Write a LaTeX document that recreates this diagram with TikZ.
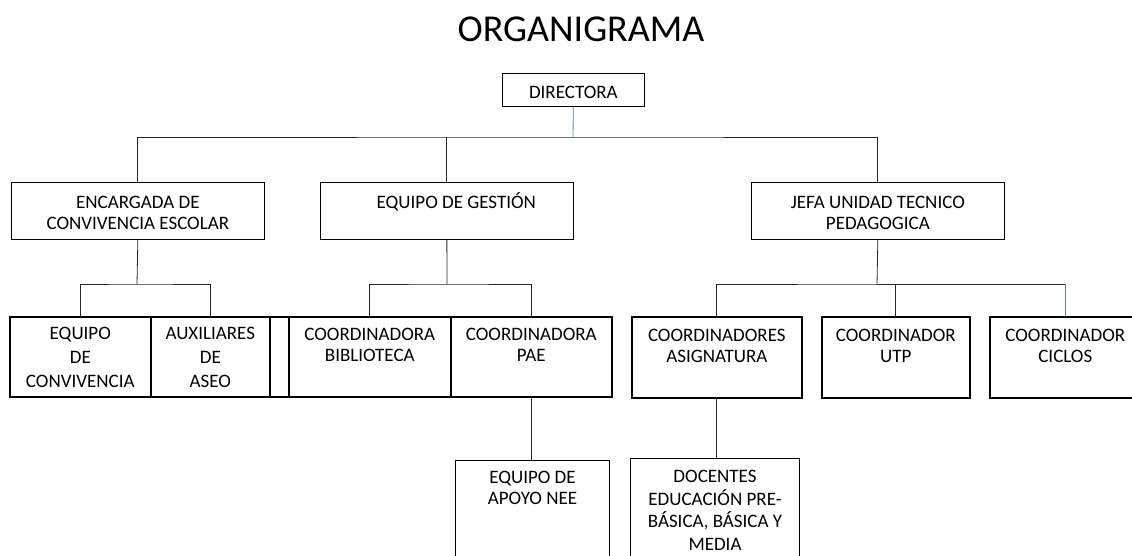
\documentclass[tikz,border=0pt]{standalone}
\usepackage{fontspec}
\setmainfont{Carlito}
\usepackage{tikz}
\definecolor{linkblue}{RGB}{79,129,189}

\begin{document}
\begin{tikzpicture}[x=1pt,y=-1pt,
  unit/.style={draw, line width=0.7pt, inner sep=0pt, anchor=north west, align=flush center, font=\fontsize{19}{20.7}\selectfont},
  post/.style={unit, line width=1.6pt},
  tall/.style={font=\fontsize{19}{23.8}\selectfont},
  link/.style={draw, line width=0.8pt, black!85},
  blink/.style={draw, line width=0.8pt, linkblue}]
\clip (0,0) rectangle (1132,556);
\node[font=\fontsize{38}{44}\selectfont, anchor=base] (title) at (581,42) {ORGANIGRAMA};
% top
\node[unit, text width=142pt, text height=25pt, text depth=8pt] (dir) at (502,73) {DIRECTORA};
\node[unit, text width=253pt, text height=26pt, text depth=31pt] (conv) at (11,182) {ENCARGADA DE\\CONVIVENCIA ESCOLAR};
\node[unit, text width=253pt, text height=26pt, text depth=31pt] (gest) at (320,182) {\hspace*{19pt}EQUIPO DE GESTIÓN};
\node[unit, text width=253pt, text height=26pt, text depth=31pt] (jefa) at (751,182) {JEFA UNIDAD TECNICO\\PEDAGOGICA};
% bottom row
\node[post, tall, text width=141pt, text height=23pt, text depth=57pt] (eqconv) at (9,316) {EQUIPO\\DE\\CONVIVENCIA};
\node[post, tall, text width=119pt, text height=23pt, text depth=57pt] (aux) at (150,316) {AUXILIARES\\DE\\ASEO};
\node[post, text width=19pt, text height=0pt, text depth=80pt] (gap) at (269,316) {};
\node[post, text width=162pt, text height=24pt, text depth=56pt] (biblio) at (288,316) {COORDINADORA\\BIBLIOTECA};
\node[post, text width=161pt, text height=24pt, text depth=56pt] (pae) at (450,316) {COORDINADORA\\PAE};
\node[post, text width=170pt, text height=25pt, text depth=56pt] (asig) at (631,316) {COORDINADORES\\ASIGNATURA};
\node[post, text width=148pt, text height=25pt, text depth=56pt] (utp) at (821,316) {COORDINADOR\\UTP};
\node[post, text width=151pt, text height=25pt, text depth=56pt] (ciclos) at (989,316) {COORDINADOR\\CICLOS};
% last
\node[unit, line width=1pt, text width=154pt, text height=23pt, text depth=87pt] (apoyo) at (455,460) {EQUIPO DE\\APOYO NEE};
\node[unit, line width=1pt, text width=169pt, text height=24pt, text depth=88pt, font=\fontsize{19}{22.7}\selectfont] (doc) at (630,458) {DOCENTES\\EDUCACIÓN PRE-\\BÁSICA, BÁSICA Y\\MEDIA};
\coordinate (bus) at (573,137);
\coordinate (busconv) at (137,284);
\coordinate (busgest) at (447,284);
\coordinate (busjefa) at (877,284);
\path[blink] (dir.south) -- (bus);
\path[link] (conv.north) |- (bus) -| (jefa.north);
\path[link] (gest.north) -- (gest.north |- bus);
\path[link] (conv.south) -- (busconv);
\path[link] (eqconv.north) |- (busconv) -| (aux.north);
\path[link] (gest.south) -- (busgest);
\path[link] (biblio.north) |- (busgest) -| (pae.north);
\path[link] (jefa.south) -- (busjefa);
\path[link] (asig.north) |- (busjefa) -| (utp.north);
\path[link] (busjefa) -- (busjefa -| ciclos.north);
\path[blink] (busjefa -| ciclos.north) -- (ciclos.north);
\path[link] (pae.south) -- (pae.south |- apoyo.north);
\path[link] (asig.south) -- (asig.south |- doc.north);
\end{tikzpicture}
\end{document}
